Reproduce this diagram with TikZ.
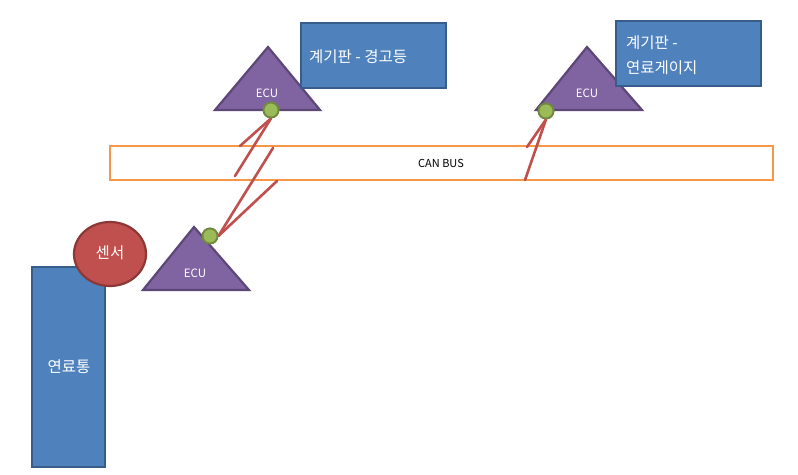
\documentclass[tikz,border=0pt]{standalone}
\usepackage{fontspec}
\usetikzlibrary{shapes.geometric}
\setmainfont{Noto Sans CJK KR}
\definecolor{bfill}{HTML}{4F81BD}
\definecolor{bline}{HTML}{385D8A}
\definecolor{pfill}{HTML}{8064A2}
\definecolor{pline}{HTML}{5C4776}
\definecolor{rfill}{HTML}{C0504D}
\definecolor{rline}{HTML}{8C3836}
\definecolor{gfill}{HTML}{9BBB59}
\definecolor{gline}{HTML}{71893F}
\definecolor{obar}{HTML}{F79646}
\tikzset{
  bluebox/.style={draw=bline, fill=bfill, line width=2.2pt, inner sep=0pt},
  tri/.style={draw=pline, fill=pfill, line width=2.2pt, line join=miter},
  ecutext/.style={text=white, font=\fontsize{11.5}{13}\selectfont, inner sep=0pt},
  kortext/.style={text=white, font=\fontsize{15.5}{24}\selectfont, inner sep=0pt},
  dot/.style={circle, draw=gline, fill=gfill, line width=1.8pt, minimum size=15pt, inner sep=0pt},
  link/.style={draw=rfill, line width=2.6pt, line cap=round},
  busbox/.style={draw=obar, line width=2.6pt, fill=white, inner sep=0pt}
}
\begin{document}
\begin{tikzpicture}[x=1pt,y=-1pt]
\useasboundingbox[fill=white] (0,0) rectangle (798,474);

% CAN bus
\node[busbox, minimum width=663pt, minimum height=34pt] (bus) at (441.5,163) {};
\node[font=\fontsize{11}{13}\selectfont, inner sep=0pt] (buslabel) at (441,163) {CAN BUS};

% fuel tank and sensor
\node[bluebox, minimum width=73pt, minimum height=200pt] (tank) at (68.5,367) {};
\node[kortext] (tanklabel) at (69,367) {연료통};
\node[ellipse, draw=rline, fill=rfill, line width=2.2pt, minimum width=72pt, minimum height=64pt, inner sep=0pt] (sensor) at (110,254) {};
\node[kortext] (sensorlabel) at (110,253) {센서};

% triangles (ECUs)
\draw[tri] (194,227) -- (249,290) -- (143,290) -- cycle;
\node[ecutext] (ecu1) at (195,273) {ECU};
\draw[tri] (268,47) -- (320,110) -- (215,110) -- cycle;
\node[ecutext] (ecu2) at (267,93) {ECU};
\draw[tri] (587,47) -- (642,110) -- (536,110) -- cycle;
\node[ecutext] (ecu3) at (587,93) {ECU};

% dashboards
\node[bluebox, minimum width=145pt, minimum height=65pt] (dash1) at (373.5,55.5) {};
\node[kortext, anchor=west] (dash1label) at (309,57) {계기판 - 경고등};
\node[bluebox, minimum width=145pt, minimum height=65pt] (dash2) at (688.5,53.5) {};
\node[kortext, anchor=west] (dash2labela) at (626,43) {계기판 -};
\node[kortext, anchor=west] (dash2labelb) at (626,68) {연료게이지};

% connection points
\coordinate (a1) at (240,146);
\coordinate (a2) at (235,176);
\coordinate (b1) at (273,148);
\coordinate (b2) at (277,181);
\coordinate (c1) at (527,147);
\coordinate (c2) at (525,180);
\node[dot] (d2) at (271,110) {};
\node[dot] (d1) at (210,236) {};
\node[dot] (d3) at (546,111) {};
\draw[link] (d2.south) -- (a1);
\draw[link] (d2.south) -- (a2);
\draw[link] (d1.east) -- (b1);
\draw[link] (d1.east) -- (b2);
\draw[link] (d3.south) -- (c1);
\draw[link] (d3.south) -- (c2);
\node[dot] (d2top) at (d2) {};
\node[dot] (d1top) at (d1) {};
\node[dot] (d3top) at (d3) {};
\end{tikzpicture}
\end{document}
